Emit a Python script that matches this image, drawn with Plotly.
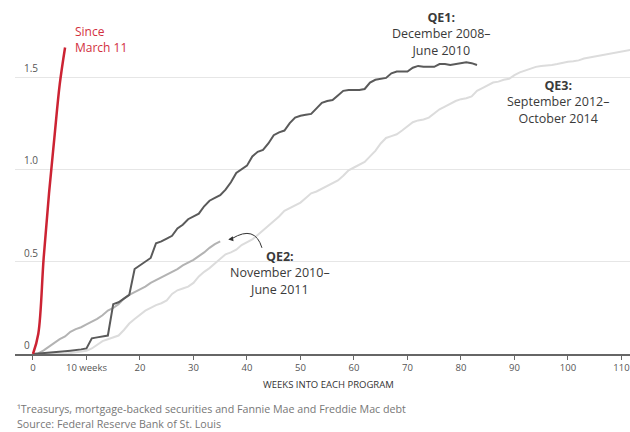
import plotly.graph_objects as go

# ---- data (weeks into each program, trillions of dollars) ----
since_weeks = [0, 1, 2, 3, 4, 5, 6]
since_vals = [0, 0.11, 0.52, 0.87, 1.17, 1.46, 1.66]

qe1_weeks = list(range(0, 84))
qe1_vals = [0, 0.002, 0.004, 0.005, 0.007, 0.01, 0.015, 0.018, 0.02, 0.025,
            0.03, 0.085, 0.09, 0.095, 0.10, 0.27, 0.28, 0.30, 0.32, 0.46,
            0.48, 0.50, 0.52, 0.60, 0.61, 0.625, 0.64, 0.68, 0.70, 0.73,
            0.745, 0.76, 0.80, 0.83, 0.845, 0.86, 0.89, 0.93, 0.98, 1.0,
            1.02, 1.07, 1.095, 1.105, 1.14, 1.185, 1.20, 1.21, 1.25, 1.28,
            1.29, 1.295, 1.30, 1.33, 1.36, 1.37, 1.375, 1.40, 1.425, 1.43,
            1.43, 1.43, 1.435, 1.47, 1.485, 1.49, 1.495, 1.52, 1.53, 1.53,
            1.53, 1.55, 1.56, 1.555, 1.555, 1.555, 1.57, 1.57, 1.565, 1.57,
            1.575, 1.58, 1.575, 1.565]

qe2_weeks = list(range(0, 36))
qe2_vals = [0, 0.003, 0.02, 0.04, 0.06, 0.08, 0.095, 0.12, 0.135, 0.145,
            0.16, 0.175, 0.19, 0.21, 0.235, 0.25, 0.27, 0.30, 0.32, 0.335,
            0.35, 0.365, 0.385, 0.40, 0.415, 0.43, 0.445, 0.46, 0.48, 0.495,
            0.51, 0.53, 0.55, 0.575, 0.595, 0.61]

qe3_weeks = list(range(0, 113))
qe3_vals = [0, 0, 0, 0, 0, 0, 0.002, 0.005, 0.008, 0.012,
            0.018, 0.03, 0.05, 0.07, 0.08, 0.09, 0.10, 0.13, 0.165, 0.19,
            0.215, 0.235, 0.25, 0.265, 0.275, 0.29, 0.325, 0.345, 0.355, 0.365,
            0.385, 0.42, 0.445, 0.465, 0.49, 0.515, 0.54, 0.55, 0.565, 0.59,
            0.605, 0.62, 0.645, 0.67, 0.69, 0.715, 0.745, 0.775, 0.79, 0.805,
            0.82, 0.845, 0.87, 0.88, 0.895, 0.91, 0.925, 0.94, 0.965, 0.995,
            1.01, 1.025, 1.04, 1.07, 1.10, 1.14, 1.17, 1.18, 1.19, 1.21,
            1.235, 1.255, 1.265, 1.27, 1.28, 1.305, 1.325, 1.34, 1.355, 1.37,
            1.38, 1.385, 1.395, 1.425, 1.44, 1.455, 1.47, 1.475, 1.485, 1.49,
            1.51, 1.525, 1.535, 1.545, 1.555, 1.56, 1.562, 1.565, 1.57, 1.578,
            1.582, 1.585, 1.59, 1.60, 1.605, 1.61, 1.615, 1.62, 1.625, 1.63,
            1.638, 1.643, 1.648]

x_tickvals = [0, 10, 20, 30, 40, 50, 60, 70, 80, 90, 100, 110]
x_ticktext = ["0", "10 weeks", "20", "30", "40", "50", "60", "70", "80", "90", "100", "110"]
y_tickvals = [0, 0.5, 1.0, 1.5]
y_ticktext = ["0", "0.5", "1.0", "1.5"]

FONT = "Open Sans"

fig = go.Figure()
fig.add_trace(go.Scatter(x=qe3_weeks, y=qe3_vals, mode="lines",
                         line=dict(color="#dcdcdc", width=2), hoverinfo="skip"))
fig.add_trace(go.Scatter(x=qe2_weeks, y=qe2_vals, mode="lines",
                         line=dict(color="#b3b3b3", width=2), hoverinfo="skip"))
fig.add_trace(go.Scatter(x=qe1_weeks, y=qe1_vals, mode="lines",
                         line=dict(color="#5a5a5a", width=2), hoverinfo="skip"))
fig.add_trace(go.Scatter(x=since_weeks, y=since_vals, mode="lines",
                         line=dict(color="#cc2333", width=2.5, shape="spline"),
                         hoverinfo="skip"))

fig.update_layout(
    width=630, height=432,
    margin=dict(l=15, r=0, t=0, b=78, autoexpand=False),
    paper_bgcolor="white", plot_bgcolor="white",
    showlegend=False,
    font=dict(family=FONT, color="#444"),
    xaxis=dict(range=[-3.36, 111.6], tickvals=x_tickvals, ticktext=x_ticktext,
               showgrid=False, zeroline=False, showline=True, linecolor="#666",
               linewidth=1.5, ticks="outside", ticklen=4, tickcolor="#666",
               automargin=False,
               tickfont=dict(size=9.5, color="#555", family=FONT)),
    yaxis=dict(range=[0, 1.917], tickvals=y_tickvals,
               showgrid=True, gridcolor="#e6e6e6", gridwidth=1,
               zeroline=False, showline=False, ticks="", showticklabels=False,
               automargin=False),
)

ann = []
for v, t in zip(y_tickvals, y_ticktext):
    ann.append(dict(x=0.0114, y=v, xref="paper", yref="y", text=t,
                    showarrow=False, xanchor="left", yanchor="bottom", yshift=0,
                    font=dict(size=10, color="#555")))

ann += [
    dict(x=7.5, y=1.703, xref="x", yref="y", text="Since<br>March 11",
         showarrow=False, xanchor="left", yanchor="middle", align="left",
         font=dict(size=12, color="#d2303e")),
    dict(x=76.4, y=1.733, xref="x", yref="y",
         text="<b>QE1:</b><br>December 2008–<br>June 2010",
         showarrow=False, xanchor="center", yanchor="middle", align="center",
         font=dict(size=12.5, color="#3a3a3a")),
    dict(x=98.1, y=1.365, xref="x", yref="y",
         text="<b>QE3:</b><br>September 2012–<br>October 2014",
         showarrow=False, xanchor="center", yanchor="middle", align="center",
         font=dict(size=12.5, color="#3a3a3a")),
    dict(x=46.2, y=0.439, xref="x", yref="y",
         text="<b>QE2:</b><br>November 2010–<br>June 2011",
         showarrow=False, xanchor="center", yanchor="middle", align="center",
         font=dict(size=12.5, color="#3a3a3a")),
    dict(x=36.5, y=0.62, xref="x", yref="y", ax=6, ay=-1, axref="pixel", ayref="pixel",
         text="", showarrow=True, arrowhead=2, arrowsize=1, arrowwidth=1,
         arrowcolor="#333"),
    dict(x=0.509, y=-0.085, xref="paper", yref="paper",
         text="WEEKS INTO EACH PROGRAM", showarrow=False,
         xanchor="center", yanchor="middle", font=dict(size=9.5, color="#333")),
    dict(x=0, y=-0.155, xref="paper", yref="paper",
         text="¹Treasurys, mortgage-backed securities and Fannie Mae and Freddie Mac debt",
         showarrow=False, xanchor="left", yanchor="middle",
         font=dict(size=10.7, color="#777")),
    dict(x=0, y=-0.198, xref="paper", yref="paper",
         text="Source: Federal Reserve Bank of St. Louis",
         showarrow=False, xanchor="left", yanchor="middle",
         font=dict(size=10.7, color="#777")),
]
fig.update_layout(annotations=ann)

fig.add_shape(type="path", xref="x", yref="y",
              path="M 42.8,0.575 Q 41.5,0.70 37.2,0.625",
              line=dict(color="#333", width=1))

fig.write_html("out.html",
               config={"displayModeBar": False},
               post_script="document.body.style.margin='0';document.body.style.overflow='hidden';")
